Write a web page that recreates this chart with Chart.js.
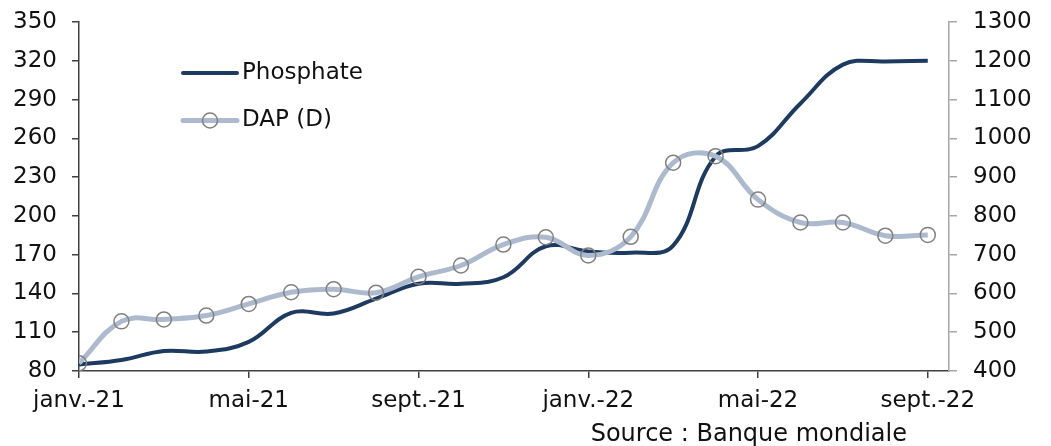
<!DOCTYPE html>
<html lang="fr">
<head>
<meta charset="utf-8">
<title>Phosphate et DAP</title>
<script src="https://cdn.jsdelivr.net/npm/chart.js@4.4.1/dist/chart.umd.min.js"></script>
<style>
  html, body { margin: 0; padding: 0; background: #ffffff; }
  #wrap { width: 1051px; height: 446px; position: relative; }
</style>
</head>
<body>
<div id="wrap"><canvas id="c" width="1051" height="446"></canvas></div>
<script>
// Mois de janv.-21 à sept.-22
const months = ['janv.-21','févr.-21','mars-21','avr.-21','mai-21','juin-21','juil.-21','août-21',
  'sept.-21','oct.-21','nov.-21','déc.-21','janv.-22','févr.-22','mars-22','avr.-22','mai-22',
  'juin-22','juil.-22','août-22','sept.-22'];

// Prix du phosphate (axe de gauche)
const phosphate = [85, 88.5, 95.5, 95, 102.5, 125, 124.5, 136, 147.5, 147.5, 152.5,
  176.5, 172.5, 171.5, 177, 246, 254, 287, 317, 319.5, 320];

// Prix du DAP (axe de droite)
const dap = [420, 528, 533, 543, 573, 603, 611, 602, 643, 672, 726,
  745, 698, 746, 937, 954, 842, 783, 783, 749, 751];

// Graduations
const leftTicks = [80, 110, 140, 170, 200, 230, 260, 290, 320, 350];
const rightTicks = [400, 500, 600, 700, 800, 900, 1000, 1100, 1200, 1300];
const xTickMonths = [0, 4, 8, 12, 16, 20];

const sourceText = 'Source : Banque mondiale';

const NAVY = '#1d3a61';
const STEEL = '#adbacd';
const FONT = "'DejaVu Sans', sans-serif";

Chart.defaults.font.family = FONT;
Chart.defaults.font.size = 23;
Chart.defaults.color = '#111111';

// Légende intérieure et mention de la source
const annotations = {
  id: 'annotations',
  afterDraw(chart) {
    const { ctx, chartArea } = chart;
    ctx.save();
    ctx.font = '23px ' + FONT;
    ctx.fillStyle = '#111111';
    ctx.textBaseline = 'middle';
    const x0 = chartArea.left + 104, x1 = x0 + 54;
    [0, 1].forEach((di, r) => {
      const ds = chart.data.datasets[di];
      const y = chartArea.top + 51 + r * 47.5;
      ctx.strokeStyle = ds.borderColor;
      ctx.lineWidth = ds.borderWidth;
      ctx.lineCap = 'round';
      ctx.beginPath(); ctx.moveTo(x0, y); ctx.lineTo(x1, y); ctx.stroke();
      if (ds.pointRadius > 0) {
        ctx.beginPath();
        ctx.arc((x0 + x1) / 2, y, ds.pointRadius, 0, Math.PI * 2);
        ctx.lineWidth = ds.pointBorderWidth;
        ctx.strokeStyle = ds.pointBorderColor;
        ctx.stroke();
      }
      ctx.fillText(ds.label, x1 + 5, y);
    });
    ctx.textBaseline = 'alphabetic';
    ctx.textAlign = 'right';
    ctx.font = '24px ' + FONT;
    ctx.fillText(sourceText, chartArea.right - 42, chartArea.bottom + 70);
    ctx.restore();
  }
};

// Axe vertical : largeur fixe, sans marge automatique au-dessus ni au-dessous
const fitVertical = width => s => { s.width = width; s.paddingTop = 0; s.paddingBottom = 0; };

new Chart(document.getElementById('c'), {
  type: 'line',
  data: {
    datasets: [
      {
        label: 'Phosphate',
        data: phosphate.map((v, i) => ({ x: i, y: v })),
        yAxisID: 'y',
        borderColor: NAVY,
        borderWidth: 4,
        pointRadius: 0,
        tension: 0.4,
        order: 2
      },
      {
        label: 'DAP (D)',
        data: dap.map((v, i) => ({ x: i, y: v })),
        yAxisID: 'y1',
        borderColor: STEEL,
        borderWidth: 5,
        pointRadius: 7.5,
        pointBorderWidth: 1.5,
        pointBorderColor: '#808080',
        pointBackgroundColor: 'rgba(0,0,0,0)',
        tension: 0.4,
        order: 1
      }
    ]
  },
  options: {
    responsive: false,
    animation: false,
    layout: { padding: { top: 22, right: 0, bottom: 0, left: 0 } },
    plugins: { legend: { display: false }, tooltip: { enabled: false } },
    scales: {
      x: {
        type: 'linear',
        min: 0,
        max: 20.5,
        afterBuildTicks: s => { s.ticks = xTickMonths.map(v => ({ value: v })); },
        afterFit: s => { s.height = 75; s.paddingLeft = 0; s.paddingRight = 0; },
        ticks: {
          callback: v => months[v],
          padding: 9,
          maxRotation: 0,
          autoSkip: false
        },
        grid: { display: true, drawOnChartArea: false, drawTicks: true, tickLength: 7, color: '#404040', lineWidth: 1.5 },
        border: { display: true, color: '#404040', width: 1.5 }
      },
      y: {
        position: 'left',
        min: 80,
        max: 350,
        afterBuildTicks: s => { s.ticks = leftTicks.map(v => ({ value: v })); },
        afterFit: fitVertical(79),
        ticks: { padding: 15, callback: v => String(v) },
        grid: { display: true, drawOnChartArea: false, drawTicks: true, tickLength: 7, color: '#404040', lineWidth: 1.5 },
        border: { display: true, color: '#404040', width: 1.5 }
      },
      y1: {
        position: 'right',
        min: 400,
        max: 1300,
        afterBuildTicks: s => { s.ticks = rightTicks.map(v => ({ value: v })); },
        afterFit: fitVertical(102),
        ticks: { padding: 16, callback: v => String(v) },
        grid: { display: true, drawOnChartArea: false, drawTicks: true, tickLength: 8, color: '#a6a6a6', lineWidth: 1.5 },
        border: { display: true, color: '#a6a6a6', width: 1.5 }
      }
    }
  },
  plugins: [annotations]
});
</script>
</body>
</html>
